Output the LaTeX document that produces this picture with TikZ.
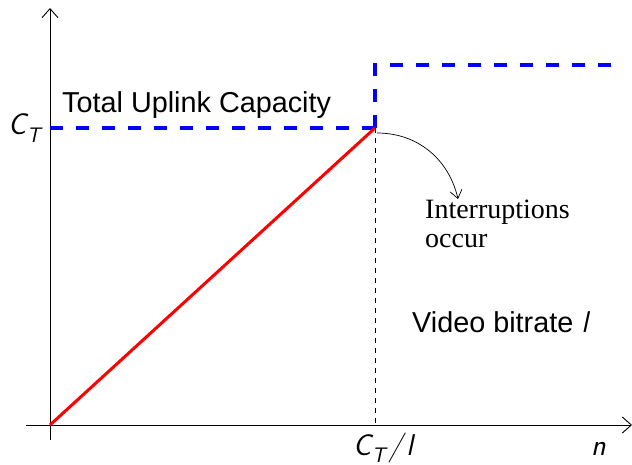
\documentclass[tikz,border=0pt]{standalone}
\usepackage{fontspec}
\setmainfont{Liberation Sans}
\newfontfamily\serifface{Liberation Serif}
\usetikzlibrary{arrows.meta}
% sans-serif italic symbols
\newcommand\symf{\sffamily\itshape\fontsize{30}{32}\selectfont}
\newcommand\capT{{\symf C}\kern0.02em\raisebox{-0.25em}{\sffamily\itshape\fontsize{21}{22}\selectfont T}}
\begin{document}
\begin{tikzpicture}[x=1pt,y=-1pt,
  axis/.style={line width=0.9pt,-{Straight Barb[length=9pt,width=16pt,line width=0.9pt]}},
  capline/.style={blue,line width=3.2pt,dash pattern=on 13pt off 13pt},
  rateline/.style={red,line width=3pt},
  guide/.style={line width=0.7pt,dash pattern=on 5pt off 5pt},
  lbl/.style={font=\fontsize{28.8}{32}\selectfont,inner sep=0pt},
  note/.style={font=\serifface\fontsize{28}{29}\selectfont,inner sep=0pt,align=left}]
\useasboundingbox (0,0) rectangle (632,465);
% reference points
\coordinate (O) at (50,425);
\coordinate (K) at (375,128);
\coordinate (Kx) at (375,425);
\coordinate (Kup) at (375,65);
\coordinate (Yc) at (50,128);
\coordinate (Rend) at (620,65);
\coordinate (ybot) at (50,440);
\coordinate (ytop) at (50,8);
\coordinate (xl) at (26,425);
\coordinate (xr) at (632,425);
% axes
\draw[axis] (ybot) -- (ytop);
\draw[axis] (xl) -- (xr);
% capacity and bitrate curves
\draw[guide] (K) -- (Kx);
\draw[capline] (Yc) -- (K);
\draw[capline] (K) -- (Kup) -- (Rend);
\draw[rateline] (O) -- (K);
% labels
\node[lbl,anchor=base west] (ct) at (8,135) {\capT};
\node[lbl,anchor=base west] (cap) at (62,113) {Total Uplink Capacity};
\node[lbl,anchor=base west] (vb) at (412,332) {Video bitrate {\symf l}};
\node[lbl,anchor=base west] (ctl) at (353,455) {\capT\kern0.12em{\symf/}\kern0.12em{\symf l}};
\node[lbl,anchor=base west] (n) at (591,455) {\symf n};
\node[note,anchor=north west] (intr) at (425,200) {Interruptions\\occur};
\coordinate (as) at (377,133);
\coordinate (ae) at (458,199);
\draw[line width=0.7pt,-{Straight Barb[length=8pt,width=12pt,line width=0.7pt]}] (as) to[out=0,in=103] (ae);
\end{tikzpicture}
\end{document}
